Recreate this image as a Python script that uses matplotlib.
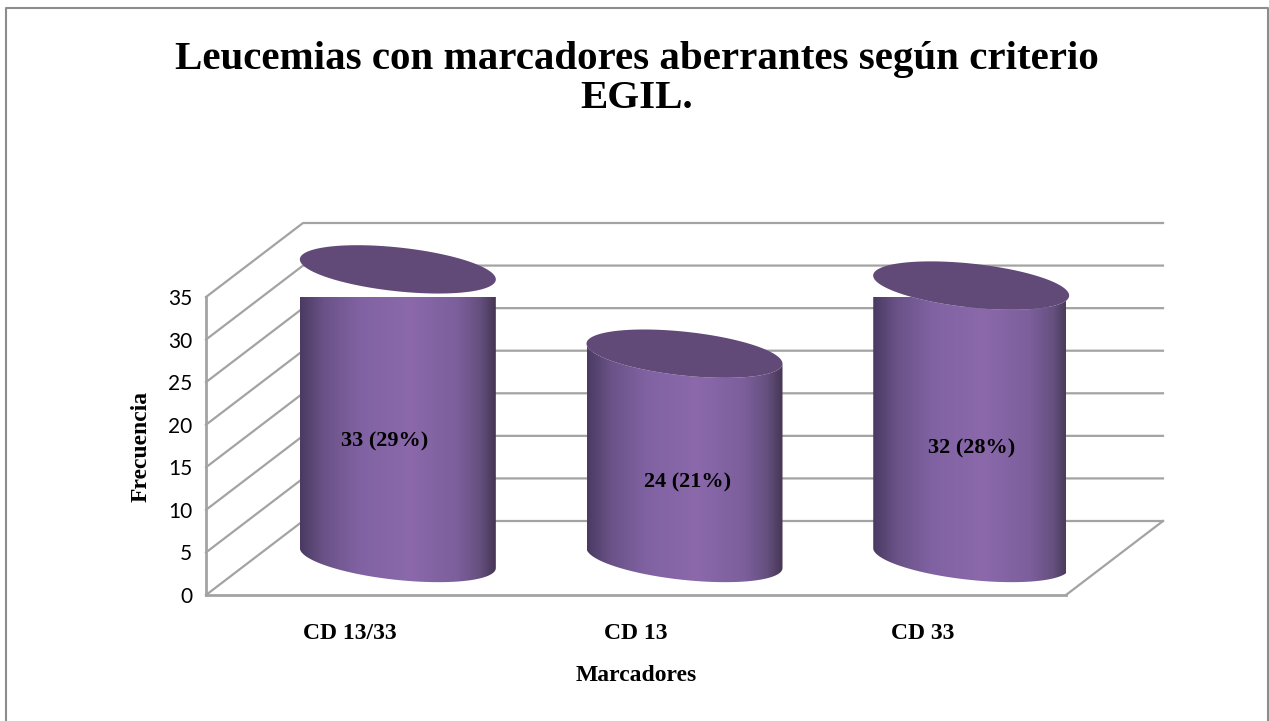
import numpy as np
import matplotlib
matplotlib.use('Agg')
import matplotlib.pyplot as plt
from matplotlib.colors import LinearSegmentedColormap
from matplotlib.lines import Line2D
from matplotlib.patches import PathPatch, Polygon
from matplotlib.path import Path

# data
categories = ['CD 13/33', 'CD 13', 'CD 33']
bar_heights = [33.9, 24, 32]   # drawn height (first bar is taller than its label)
bar_labels = ['33 (29%)', '24 (21%)', '32 (28%)']
y_ticks = [0, 5, 10, 15, 20, 25, 30, 35]

W, H = 1269, 721
fig = plt.figure(figsize=(W / 100, H / 100), dpi=100)
ax = fig.add_axes([206 / W, 1 - 595 / H, 860 / W, 298 / H])
ax.set_xlim(0, 3)
ax.set_ylim(0, 35)

# 3d look: how far the back wall is shifted from the front plane
depth_x = 97 / (860 / 3)
depth_y = 74 / (298 / 35)
grey = '#a3a3a3'

def project(x, y, depth):
    return x + depth * depth_x, y + depth * depth_y

# walls and gridlines
for v in y_ticks:
    x0, y0 = project(0, v, 0)
    x1, y1 = project(0, v, 1)
    x2, y2 = project(3, v, 1)
    ax.plot([x0, x1, x2], [y0, y1, y2], color=grey, lw=1.6, zorder=1, clip_on=False)
ax.plot([0, 0], [0, 35], color=grey, lw=2, zorder=1, clip_on=False)
ax.plot([0, 3], [0, 0], color=grey, lw=2, zorder=1, clip_on=False)
x1, y1 = project(3, 0, 1)
ax.plot([3, x1], [0, y1], color=grey, lw=1.6, zorder=1, clip_on=False)

# cylinders
side_cmap = LinearSegmentedColormap.from_list('side', [
    (0.0, '#4a3a62'), (0.12, '#6a5287'), (0.3, '#8062a2'), (0.56, '#8b69ab'),
    (0.8, '#7c5f9c'), (0.92, '#65507f'), (1.0, '#463654')])
radius = 98 / (860 / 3)
minor = 22 / (298 / 35)
tilt = -10 / (298 / 35)

t = np.linspace(0, 2 * np.pi, 181)
for i, h in enumerate(bar_heights):
    cx, cy = project(i + 0.5, 0, 0.5)
    ex = cx + radius * np.cos(t)
    ey = minor * np.sin(t) + tilt * np.cos(t)

    # body: lower half of the base ellipse, then back along the lower half of the top one
    low = (t >= 0) & (t <= np.pi)
    # screen y goes up here, so the lower half is where sin is negative
    low = np.sin(t) <= 0
    xs = ex[low]
    ys = cy + ey[low]
    order = np.argsort(xs)
    xs, ys = xs[order], ys[order]
    body = np.vstack([
        np.column_stack([xs, ys]),
        np.column_stack([xs[::-1], ys[::-1] + h]),
    ])
    patch = Polygon(body, closed=True, facecolor='none', edgecolor='none', zorder=3,
                    clip_on=False, transform=ax.transData)
    ax.add_patch(patch)
    img = ax.imshow(np.linspace(0, 1, 256).reshape(1, -1), cmap=side_cmap, aspect='auto',
                    extent=[cx - radius, cx + radius, cy - 5, cy + h + 5], zorder=3)
    img.set_clip_path(patch)

    top = Path(np.column_stack([ex, cy + h + ey]))
    ax.add_patch(PathPatch(top, facecolor='#614a78', edgecolor='none', zorder=4, clip_on=False))

ax.set_xlim(0, 3)
ax.set_ylim(0, 35)

# value labels
label_levels = [13.7, 8.9, 12.9]
label_shift = [-0.045, 0.01, 0.0]
for i, s in enumerate(bar_labels):
    lx, ly = project(i + 0.5 + label_shift[i], label_levels[i], 0.5)
    ax.text(lx, ly, s, ha='center', va='center', fontsize=16, fontweight='bold',
            family='Liberation Serif', color='black', zorder=5)

# axes
ax.patch.set_visible(False)
for s in ax.spines.values():
    s.set_visible(False)
ax.set_yticks(y_ticks)
ax.set_yticklabels([str(v) for v in y_ticks], fontsize=15, family='Lato')
ax.set_xticks([0.5, 1.5, 2.5])
ax.set_xticklabels(categories, fontsize=17, fontweight='bold', family='Liberation Serif')
ax.tick_params(axis='both', length=0)
ax.tick_params(axis='y', pad=10)
ax.tick_params(axis='x', pad=20)
ax.set_xlabel('Marcadores', fontsize=17, fontweight='bold', family='Liberation Serif', labelpad=15)
ax.set_ylabel('Frecuencia', fontsize=17, fontweight='bold', family='Liberation Serif', labelpad=12)

fig.text(637 / W, 1 - 79 / H, 'Leucemias con marcadores aberrantes según criterio\nEGIL.',
         ha='center', va='center', fontsize=29.5, fontweight='bold', family='Liberation Serif',
         linespacing=1.05)

# outer frame, no bottom edge in the picture
frame_x = [6.5 / W, 6.5 / W, 1267.5 / W, 1267.5 / W]
frame_y = [0, 1 - 7.5 / H, 1 - 7.5 / H, 0]
fig.add_artist(Line2D(frame_x, frame_y, color='#8c8c8c', lw=1.5, transform=fig.transFigure))

plt.savefig('out.png', dpi=100)
